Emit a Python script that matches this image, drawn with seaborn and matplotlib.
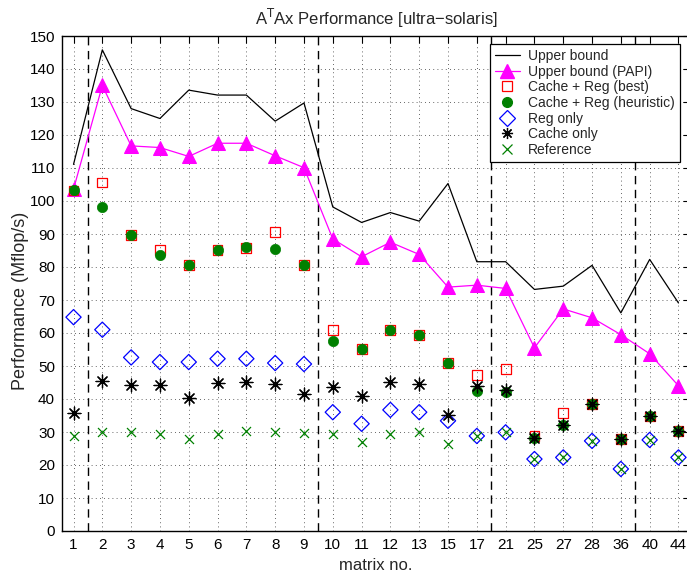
import numpy as np
import pandas as pd
import matplotlib
matplotlib.use("Agg")
import matplotlib.pyplot as plt
import seaborn as sns
from matplotlib.lines import Line2D

matrices = ["1", "2", "3", "4", "5", "6", "7", "8", "9", "10", "11", "12", "13",
            "15", "17", "21", "25", "27", "28", "36", "40", "44"]

upper_bound = [111.1, 145.8, 128.0, 125.0, 133.6, 132.1, 132.1, 124.2, 129.7, 98.2, 93.5,
               96.5, 93.9, 105.3, 81.6, 81.6, 73.2, 74.2, 80.5, 66.1, 82.3, 69.1]
upper_papi = [103.6, 135.0, 116.7, 116.2, 113.5, 117.5, 117.5, 113.7, 110.1, 88.5, 83.1,
              87.5, 83.8, 73.9, 74.5, 73.5, 55.5, 67.3, 64.6, 59.5, 53.7, 44.0]
cache_reg_best = [103.2, 105.6, 89.6, 85.1, 80.6, 85.1, 85.8, 90.6, 80.6, 61.0, 55.2,
                  60.8, 59.5, 50.9, 47.2, 49.2, 28.9, 35.7, 38.6, 27.9, 34.7, 30.4]
cache_reg_heur = [103.2, 98.2, 89.6, 83.5, 80.6, 85.1, 86.0, 85.6, 80.6, 57.7, 55.2,
                  60.8, 59.5, 50.9, 42.3, 42.1, 28.1, 32.2, 38.6, 28.0, 34.9, 30.4]
reg_only = [64.8, 61.0, 52.6, 51.2, 51.2, 52.2, 52.2, 50.9, 50.6, 36.0, 32.5,
            36.7, 36.0, 33.4, 28.8, 29.9, 21.8, 22.3, 27.3, 18.8, 27.6, 22.3]
cache_only = [35.7, 45.6, 44.3, 44.3, 40.3, 44.8, 45.1, 44.5, 41.6, 43.6, 41.0,
              45.1, 44.5, 35.2, 43.8, 42.8, 28.1, 32.2, 38.6, 28.0, 34.9, 30.4]
reference = [28.8, 30.0, 30.0, 29.5, 27.9, 29.5, 30.2, 30.0, 29.7, 29.4, 26.9,
             29.4, 29.9, 26.3, 28.8, 29.9, 21.8, 22.3, 27.3, 18.8, 27.6, 22.3]
separators = [1.5, 9.5, 15.5, 20.5]   # dashed group boundaries (1-based positions)

pos = np.arange(1, len(matrices) + 1)
df = pd.DataFrame({"pos": pos, "ub": upper_bound, "papi": upper_papi,
                   "best": cache_reg_best, "heur": cache_reg_heur,
                   "reg": reg_only, "cache": cache_only, "ref": reference})

sns.set_style("white")
plt.rcParams["font.family"] = ["Liberation Sans", "DejaVu Sans"]

fig = plt.figure(figsize=(6.87, 5.78), dpi=100)
ax = fig.add_axes([62 / 687, 47 / 578, 628 / 687, 495 / 578])

MAG = "#ff00ff"
GRN = "#008000"
asterisk = (8, 2, 0)

sns.lineplot(data=df, x="pos", y="ub", ax=ax, color="black", linewidth=0.9, zorder=3)
sns.lineplot(data=df, x="pos", y="papi", ax=ax, color=MAG, linewidth=0.9, marker="^",
             markersize=10, markeredgecolor=MAG, markerfacecolor=MAG, zorder=3)
sns.scatterplot(data=df, x="pos", y="best", ax=ax, marker="s", s=50, facecolors="none",
                edgecolor="red", linewidth=0.9, zorder=4)
sns.scatterplot(data=df, x="pos", y="heur", ax=ax, marker="o", s=55, color=GRN,
                edgecolor=GRN, linewidth=0.5, zorder=5)
sns.scatterplot(data=df, x="pos", y="reg", ax=ax, marker="D", s=60, facecolors="none",
                edgecolor="blue", linewidth=0.9, zorder=6)
sns.scatterplot(data=df, x="pos", y="cache", ax=ax, marker=asterisk, s=85, color="black",
                linewidth=0.9, zorder=7)
sns.scatterplot(data=df, x="pos", y="ref", ax=ax, marker="x", s=42, color=GRN,
                linewidth=0.9, zorder=8)

for s in separators:
    ax.axvline(s, color="black", linewidth=1.0, linestyle=(0, (6, 4)), zorder=2)

ax.set_xlim(0.6, 22.4)
ax.set_ylim(0, 150)
ax.set_xticks(pos)
ax.set_xticklabels(matrices)
ax.set_yticks(np.arange(0, 151, 10))
ax.grid(True, color="black", linestyle=(0, (1, 4)), linewidth=0.6, alpha=0.8)
ax.set_axisbelow(True)
for sp in ax.spines.values():
    sp.set_color("black")
    sp.set_linewidth(1.0)
ax.tick_params(direction="in", length=5, width=0.8, top=True, right=True,
               labelsize=11, colors="black", pad=5)

ax.set_xlabel("matrix no.", fontsize=12)
ax.xaxis.set_label_coords((376 - 62) / 628, -(566 - 531) / 495)
ax.set_ylabel("Performance (Mflop/s)", fontsize=13)
ax.yaxis.set_label_coords(-(62 - 20) / 628, (531 - 301) / 495)
ax.xaxis.label.set_va("center")
ax.yaxis.label.set_va("center")
ax.set_title("A$^{\\mathrm{T}}$Ax Performance [ultra\u2212solaris]", fontsize=12, pad=8)

handles = [
    Line2D([], [], color="black", linewidth=0.9),
    Line2D([], [], color=MAG, linewidth=0.9, marker="^", markersize=10),
    Line2D([], [], color="red", linestyle="", marker="s", markersize=7,
           markerfacecolor="none", markeredgewidth=0.9),
    Line2D([], [], color=GRN, linestyle="", marker="o", markersize=7),
    Line2D([], [], color="blue", linestyle="", marker="D", markersize=8,
           markerfacecolor="none", markeredgewidth=0.9),
    Line2D([], [], color="black", linestyle="", marker=asterisk, markersize=8,
           markeredgewidth=0.9),
    Line2D([], [], color=GRN, linestyle="", marker="x", markersize=7,
           markeredgewidth=0.9),
]
labels = ["Upper bound", "Upper bound (PAPI)", "Cache + Reg (best)",
          "Cache + Reg (heuristic)", "Reg only", "Cache only", "Reference"]
leg = ax.legend(handles, labels, loc="upper left", bbox_to_anchor=(490 / 687, 1 - 44 / 578),
                bbox_transform=fig.transFigure, fontsize=10, frameon=True, fancybox=False,
                edgecolor="black", framealpha=1, labelspacing=0.12, handlelength=1.8,
                borderpad=0.35, handletextpad=0.6, borderaxespad=0)
leg.get_frame().set_linewidth(0.9)
leg.set_zorder(20)

fig.savefig("out.png", dpi=100)
